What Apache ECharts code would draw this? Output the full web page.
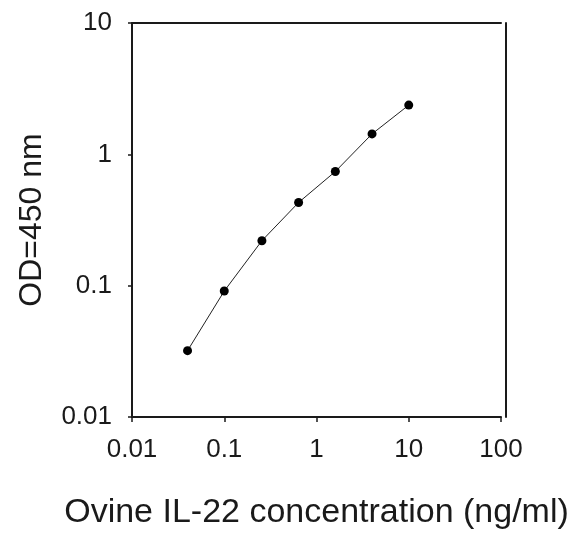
<!DOCTYPE html>
<html>
<head>
<meta charset="utf-8">
<script src="https://cdn.jsdelivr.net/npm/echarts@6/dist/echarts.min.js"></script>
<style>
  html, body { margin: 0; padding: 0; background: #fff; }
  #myChart { width: 579px; height: 540px; }
</style>
</head>
<body>
<div id="myChart"></div>
<script>
window.onload = function () {
	'use strict';

	// standard curve: concentration (ng/ml) vs OD450
	var concentration = [0.04, 0.1, 0.256, 0.64, 1.6, 4, 10];
	var od450 = [0.032, 0.091, 0.22, 0.43, 0.74, 1.43, 2.37];

	var points = [];
	for (var i = 0; i < concentration.length; i++) {
		points.push([concentration[i], od450[i]]);
	}

	var font = 'Liberation Sans, Arial, sans-serif';
	var ink = '#1a1a1a';

	var option = {
		animation: false,
		backgroundColor: '#fff',
		grid: {
			left: 132,
			right: 78,
			top: 23,
			bottom: 123
		},
		xAxis: [
			{
				type: 'log',
				logBase: 10,
				min: 0.01,
				max: 100,
				name: 'Ovine IL-22 concentration (ng/ml)',
				nameLocation: 'middle',
				nameGap: 79,
				nameTextStyle: {color: ink, fontSize: 34, fontFamily: font},
				axisLine: {lineStyle: {color: ink, width: 2}},
				axisTick: {inside: false, length: 5, lineStyle: {color: ink, width: 1.5}},
				axisLabel: {color: ink, fontSize: 26, fontFamily: font, margin: 20},
				splitLine: {show: false},
				minorTick: {show: false}
			},
			{
				type: 'log',
				logBase: 10,
				min: 0.01,
				max: 100,
				position: 'top',
				axisLine: {onZero: false, lineStyle: {color: ink, width: 2}},
				axisTick: {show: false},
				axisLabel: {show: false},
				splitLine: {show: false}
			}
		],
		yAxis: [
			{
				type: 'log',
				logBase: 10,
				min: 0.01,
				max: 10,
				name: 'OD=450 nm',
				nameLocation: 'middle',
				nameGap: 84,
				nameRotate: 90,
				nameTextStyle: {color: ink, fontSize: 32, fontFamily: font},
				axisLine: {lineStyle: {color: ink, width: 2}},
				axisTick: {inside: false, length: 4, lineStyle: {color: ink, width: 1.5}},
				axisLabel: {color: ink, fontSize: 26, fontFamily: font, margin: 20},
				splitLine: {show: false}
			},
			{
				type: 'log',
				logBase: 10,
				min: 0.01,
				max: 10,
				position: 'right',
				offset: 5,
				axisLine: {onZero: false, lineStyle: {color: ink, width: 2}},
				axisTick: {show: false},
				axisLabel: {show: false},
				splitLine: {show: false}
			}
		],
		series: [
			{
				type: 'line',
				data: points,
				symbol: 'circle',
				symbolSize: 9,
				lineStyle: {color: '#222', width: 1},
				itemStyle: {color: '#000'}
			}
		]
	};

	var myChart = echarts.init(document.getElementById('myChart'));
	myChart.setOption(option);
};
</script>
</body>
</html>
